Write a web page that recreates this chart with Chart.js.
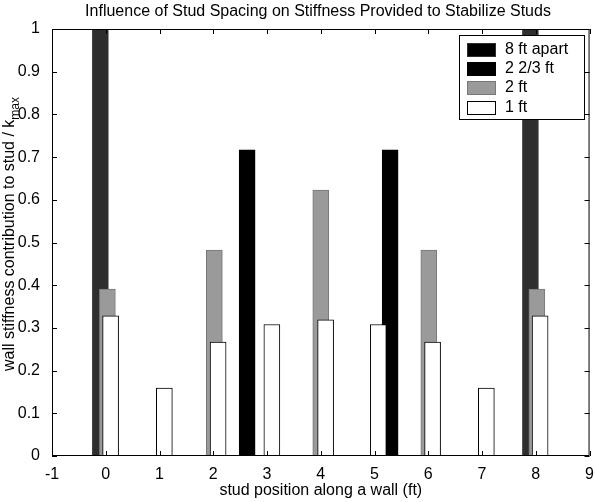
<!DOCTYPE html>
<html>
<head>
<meta charset="utf-8">
<script src="https://cdn.jsdelivr.net/npm/chart.js@4.4.0/dist/chart.umd.min.js"></script>
<style>
  body { margin: 0; background: #fff; }
  #wrap { width: 595px; height: 502px; }
</style>
</head>
<body>
<div id="wrap"><canvas id="c" width="595" height="502"></canvas></div>
<script>
var seriesNames = ['8 ft apart', '2 2/3 ft', '2 ft', '1 ft'];
// stud positions (ft) and stiffness ratios
var pos8 = [-0.1, 7.9];
var val8 = [1, 1];
var pos223 = [2.63, 5.29];
var val223 = [0.717, 0.717];
var pos2 = [0.03, 2.02, 4.0, 6.01, 8.02];
var val2 = [0.391, 0.482, 0.623, 0.482, 0.391];
var pos1 = [0.09, 1.09, 2.09, 3.09, 4.09, 5.07, 6.08, 7.08, 8.08];
var val1 = [0.328, 0.159, 0.267, 0.308, 0.319, 0.308, 0.267, 0.159, 0.328];
var xTicks = [-1, 0, 1, 2, 3, 4, 5, 6, 7, 8, 9];
var yTicks = [0, 0.1, 0.2, 0.3, 0.4, 0.5, 0.6, 0.7, 0.8, 0.9, 1];

var FONT = '"Liberation Sans", Arial, Helvetica, sans-serif';

function pts(xs, ys) {
  var out = [];
  for (var i = 0; i < xs.length; i++) out.push({x: xs[i], y: ys[i]});
  return out;
}

var fills = ['#2e2e2e', '#000000', '#9a9a9a', '#ffffff'];
var borders = ['#2e2e2e', '#000000', '#777777', '#000000'];
var legendFills = ['#000000', '#000000', '#9a9a9a', '#ffffff'];

var decor = {
  id: 'decor',
  afterDraw: function(chart) {
    var ctx = chart.ctx;
    var a = chart.chartArea;
    var xs = chart.scales.x, ys = chart.scales.y;
    ctx.save();
    // box
    ctx.strokeStyle = '#000';
    ctx.lineWidth = 1;
    ctx.strokeRect(a.left + 0.5, a.top + 0.5, a.right - a.left - 1, a.bottom - a.top - 1);
    // inward ticks on all sides
    ctx.beginPath();
    xTicks.forEach(function(v) {
      var px = Math.round(xs.getPixelForValue(v)) + 0.5;
      ctx.moveTo(px, a.bottom); ctx.lineTo(px, a.bottom - 5);
      ctx.moveTo(px, a.top); ctx.lineTo(px, a.top + 5);
    });
    yTicks.forEach(function(v) {
      var py = Math.round(ys.getPixelForValue(v)) + 0.5;
      ctx.moveTo(a.left, py); ctx.lineTo(a.left + 5, py);
      ctx.moveTo(a.right, py); ctx.lineTo(a.right - 5, py);
    });
    ctx.stroke();

    ctx.fillStyle = '#000';
    // title
    ctx.font = '16px ' + FONT;
    ctx.textAlign = 'center';
    ctx.textBaseline = 'middle';
    ctx.fillText('Influence of Stud Spacing on Stiffness Provided to Stabilize Studs', 318, 12);
    // x title
    ctx.fillText('stud position along a wall (ft)', (a.left + a.right) / 2, 491);
    // y title with subscript
    var main = 'wall stiffness contribution to stud / k';
    var sub = 'max';
    ctx.font = '16px ' + FONT;
    var w1 = ctx.measureText(main).width;
    ctx.font = '12px ' + FONT;
    var w2 = ctx.measureText(sub).width;
    ctx.translate(10, 234);
    ctx.rotate(-Math.PI / 2);
    ctx.textAlign = 'left';
    var start = -(w1 + w2) / 2;
    ctx.font = '16px ' + FONT;
    ctx.fillText(main, start, 0);
    ctx.font = '12px ' + FONT;
    ctx.fillText(sub, start + w1, 6);
    ctx.setTransform(1, 0, 0, 1, 0, 0);

    // legend
    var lx = 459, ly = 35, lw = 125, lh = 84;
    ctx.fillStyle = '#fff';
    ctx.fillRect(lx, ly, lw, lh);
    ctx.strokeStyle = '#000';
    ctx.strokeRect(lx + 0.5, ly + 0.5, lw, lh);
    ctx.font = '16px ' + FONT;
    ctx.textAlign = 'left';
    ctx.textBaseline = 'middle';
    chart.data.datasets.forEach(function(ds, i) {
      var cy = Math.round(ly + 15 + i * 19.2);
      ctx.fillStyle = legendFills[i];
      ctx.fillRect(lx + 8, cy - 7, 29, 14);
      ctx.strokeStyle = i === 3 ? '#000' : ds.borderColor;
      ctx.strokeRect(lx + 8.5, cy - 6.5, 28, 13);
      ctx.fillStyle = '#000';
      ctx.fillText(ds.label, lx + 46, cy);
    });
    ctx.restore();
  }
};

var allPos = [pos8, pos223, pos2, pos1];
var allVal = [val8, val223, val2, val1];
var datasets = [];
for (var s = 0; s < seriesNames.length; s++) {
  datasets.push({
    label: seriesNames[s],
    data: pts(allPos[s], allVal[s]),
    backgroundColor: fills[s],
    borderColor: borders[s],
    borderWidth: 1,
    barThickness: 16,
    grouped: false,
    order: 4 - s
  });
}

new Chart(document.getElementById('c').getContext('2d'), {
  type: 'bar',
  data: { datasets: datasets },
  options: {
    responsive: false,
    animation: false,
    layout: { padding: { top: 29, right: 4, left: 0, bottom: 0 } },
    plugins: { legend: { display: false }, tooltip: { enabled: false } },
    scales: {
      x: {
        type: 'linear', min: -1, max: 9, offset: false,
        grid: { display: false, offset: false },
        border: { display: false },
        afterBuildTicks: function(sc) { sc.ticks = xTicks.map(function(v) { return {value: v}; }); },
        afterFit: function(sc) { sc.height = 46; },
        ticks: { color: '#000', padding: 1, font: { size: 16, family: FONT }, maxRotation: 0, autoSkip: false }
      },
      y: {
        min: 0, max: 1,
        grid: { display: false },
        border: { display: false },
        afterBuildTicks: function(sc) { sc.ticks = yTicks.map(function(v) { return {value: v}; }); },
        afterFit: function(sc) { sc.width = 52; },
        ticks: { color: '#000', padding: 4, font: { size: 16, family: FONT },
          callback: function(v) { return String(Math.round(v * 10) / 10); } }
      }
    }
  },
  plugins: [decor]
});
</script>
</body>
</html>
